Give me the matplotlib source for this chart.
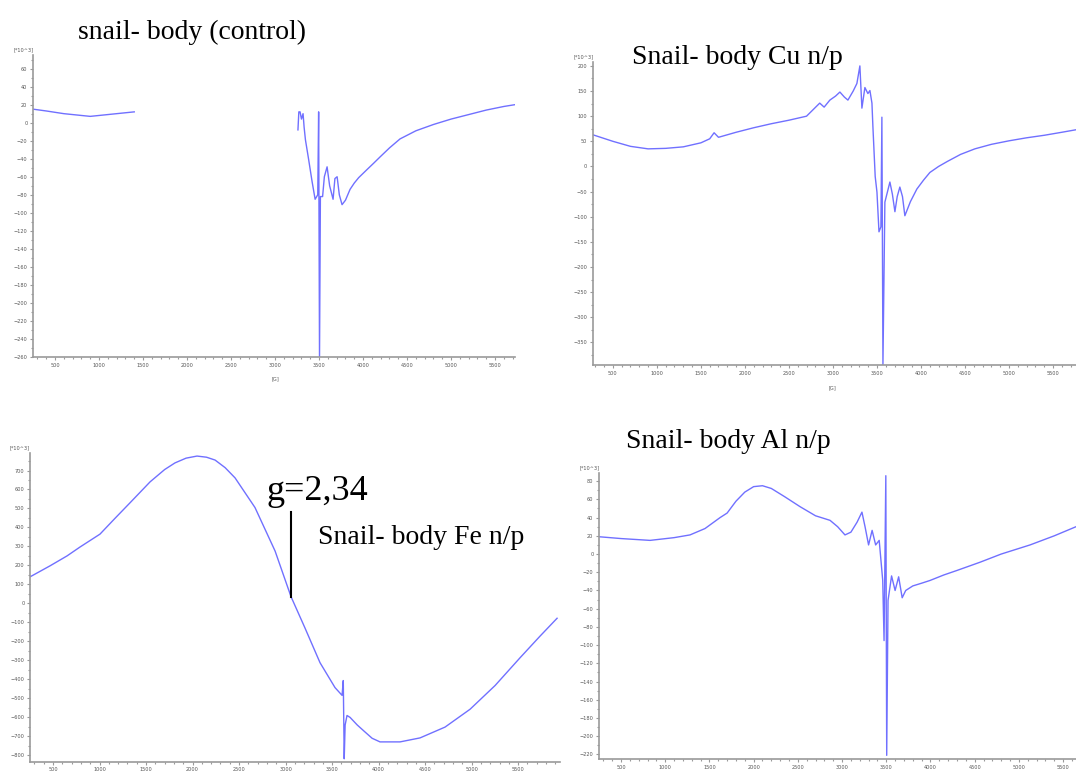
import matplotlib.pyplot as plt
from matplotlib.ticker import MultipleLocator

# control spectrum: two recorded pieces (gap between 1400 and 3260 G)
ctrl_g1 = [250, 400, 600, 800, 900, 1000, 1200, 1400]
ctrl_v1 = [15, 13, 10, 8, 7, 8, 10, 12]
ctrl_g2 = [3260, 3270, 3284, 3300, 3318, 3330, 3345, 3380, 3420, 3455, 3485, 3495,
           3505, 3515, 3540, 3560, 3591, 3620, 3659, 3680, 3705, 3730, 3761, 3800,
           3852, 3900, 3950, 4045, 4120, 4193, 4300, 4420, 4600, 4800, 5000, 5200,
           5400, 5600, 5727]
ctrl_v2 = [-8, 12, 12, 4, 10, -5, -19, -40, -65, -85, -80, 12,
           -260, -82, -82, -60, -49, -70, -85, -62, -60, -80, -91, -86,
           -74, -67, -61, -52, -45, -38, -28, -18, -9, -2, 4, 9,
           14, 18, 20]

cu_g = [273, 500, 700, 900, 1100, 1300, 1500, 1600, 1650, 1700, 1900, 2100, 2300,
        2500, 2700, 2850, 2900, 2965, 3030, 3079, 3130, 3170, 3230, 3272, 3306,
        3329, 3363, 3397, 3420, 3443, 3454, 3480, 3500, 3523, 3545, 3556, 3568,
        3590, 3620, 3647, 3675, 3704, 3730, 3760, 3790, 3817, 3880, 3953, 4030,
        4101, 4200, 4300, 4450, 4612, 4800, 5000, 5200, 5400, 5600, 5761]
cu_v = [63, 50, 40, 35, 36, 39, 47, 55, 67, 58, 68, 77, 85,
        92, 100, 126, 118, 132, 140, 148, 138, 132, 150, 165, 200,
        116, 157, 145, 151, 126, 79, -20, -51, -130, -120, 98, -394,
        -71, -50, -31, -55, -90, -60, -41, -60, -98, -70, -45, -27,
        -12, 0, 10, 24, 35, 44, 51, 57, 62, 68, 73]

fe_g = [253, 468, 650, 790, 1005, 1170, 1328, 1543, 1700, 1811, 1930, 2048, 2150,
        2242, 2350, 2457, 2671, 2887, 3058, 3209, 3370, 3531, 3607, 3620, 3630,
        3640, 3660, 3693, 3770, 3854, 3930, 4015, 4230, 4445, 4714, 4983, 5252,
        5520, 5735, 5918]
fe_v = [140, 198, 250, 297, 365, 450, 530, 640, 705, 740, 765, 776, 770,
        755, 715, 661, 505, 276, 36, -130, -312, -443, -484, -406, -818,
        -640, -590, -600, -640, -677, -710, -729, -729, -708, -651, -557, -432,
        -286, -172, -78]

al_g = [251, 500, 828, 1100, 1280, 1450, 1620, 1700, 1800, 1900, 2000, 2100, 2200,
        2350, 2525, 2700, 2864, 2950, 3033, 3100, 3170, 3225, 3260, 3300, 3340,
        3380, 3420, 3460, 3475, 3495, 3505, 3520, 3560, 3600, 3640, 3680, 3720,
        3800, 3900, 3995, 4150, 4300, 4560, 4800, 5126, 5400, 5646]
al_v = [19, 17, 15, 18, 21, 28, 40, 45, 58, 68, 74, 75, 72,
        63, 52, 42, 37, 30, 21, 24, 35, 46, 30, 10, 26,
        10, 15, -29, -95, 86, -221, -51, -24, -40, -25, -48, -40,
        -35, -32, -29, -23, -18, -9, 0, 10, 20, 30]

LINE = '#7070ff'
GREY = '#9a9a9a'
TXT = '#555555'
SERIF = 'Liberation Serif'


def style(ax, xlim, ylim, ymaj, ymin_step):
    ax.set_xlim(*xlim)
    ax.set_ylim(*ylim)
    for s in ['top', 'right']:
        ax.spines[s].set_visible(False)
    for s in ['left', 'bottom']:
        ax.spines[s].set_color(GREY)
        ax.spines[s].set_linewidth(1.2)
    ax.xaxis.set_major_locator(MultipleLocator(500))
    ax.xaxis.set_minor_locator(MultipleLocator(100))
    ax.yaxis.set_major_locator(MultipleLocator(ymaj))
    ax.yaxis.set_minor_locator(MultipleLocator(ymin_step))
    ax.tick_params(which='both', colors=GREY, labelcolor=TXT, labelsize=3.6,
                   length=2.5, width=0.8, pad=1.5)
    ax.tick_params(which='minor', length=1.5)
    ax.set_xticks([t for t in range(500, 6000, 500) if xlim[0] <= t <= xlim[1]])
    ax.text(-0.02, 1.01, '[*10^3]', transform=ax.transAxes, fontsize=3.6,
            color=TXT, ha='center', va='bottom')
    ax.patch.set_alpha(0)


fig = plt.figure(figsize=(10.76, 7.76), dpi=100)

ax1 = fig.add_axes([0.0307, 0.540, 0.448, 0.389])
ax1.plot(ctrl_g1, ctrl_v1, color=LINE, lw=1)
ax1.plot(ctrl_g2, ctrl_v2, color=LINE, lw=1)
style(ax1, (250, 5727), (-260, 75), 20, 10)
ax1.text(3000, -281, '[G]', fontsize=3.6, color=TXT, ha='center', va='top')

ax2 = fig.add_axes([0.551, 0.5296, 0.449, 0.390])
ax2.plot(cu_g, cu_v, color=LINE, lw=1)
style(ax2, (273, 5761), (-395, 207), 50, 25)
ax2.text(3000, -436, '[G]', fontsize=3.6, color=TXT, ha='center', va='top')

ax3 = fig.add_axes([0.0279, 0.0185, 0.4926, 0.3977])
ax3.plot(fe_g, fe_v, color=LINE, lw=1)
style(ax3, (253, 5950), (-833, 792), 100, 50)
ax3.plot([3058, 3058], [36, 484], color='black', lw=1.5)

ax4 = fig.add_axes([0.5567, 0.0219, 0.4433, 0.3686])
ax4.plot(al_g, al_v, color=LINE, lw=1)
style(ax4, (251, 5646), (-225, 89), 20, 10)

fig.text(78 / 1076, 1 - 32 / 776, 'snail- body (control)', family=SERIF,
         fontsize=20, va='center', ha='left')
fig.text(632 / 1076, 1 - 57 / 776, 'Snail- body Cu n/p', family=SERIF,
         fontsize=20, va='center', ha='left')
fig.text(318 / 1076, 1 - 537 / 776, 'Snail- body Fe n/p', family=SERIF,
         fontsize=20, va='center', ha='left')
fig.text(626 / 1076, 1 - 441 / 776, 'Snail- body Al n/p', family=SERIF,
         fontsize=20, va='center', ha='left')
fig.text(266 / 1076, 1 - 500 / 776, 'g=2,34', family=SERIF,
         fontsize=26, va='baseline', ha='left')

fig.savefig('out.png', dpi=100)
